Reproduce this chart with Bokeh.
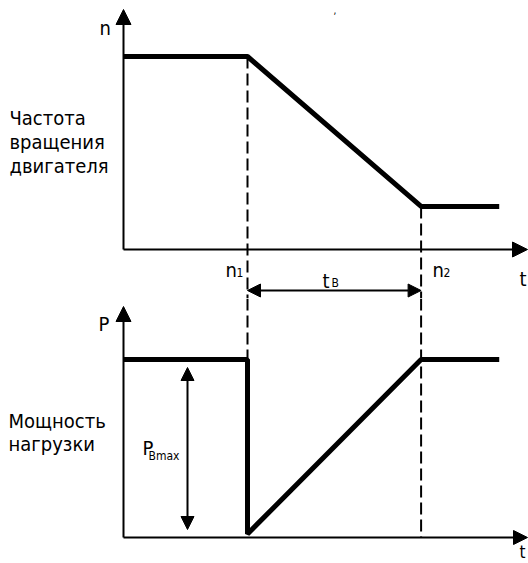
from bokeh.plotting import figure
from bokeh.layouts import column
from bokeh.models import Range1d, Arrow, NormalHead
from bokeh.core.properties import value
from bokeh.embed import file_html
from bokeh.resources import INLINE

# ---------------- data ----------------
t_marks = [0.0, 1.0, 2.4, 3.03]            # start, n1, n2, end of trace
n_speed = [1.0, 1.0, 0.223, 0.223]         # motor speed (relative)
p_time = [0.0, 1.0, 1.0, 2.4, 3.03]
p_power = [1.0, 1.0, 0.02, 1.0, 1.0]       # load power (relative)

speed_label = ["Частота", "вращения", "двигателя"]
power_label = ["Мощность", "нагрузки"]

t1, t2 = t_marks[1], t_marks[2]
n_high, n_low = n_speed[0], n_speed[2]
p_high = p_power[0]

# ---------------- layout helpers (picture pixel -> data) ----------------
FONT = "Liberation Sans Narrow, DejaVu Sans Condensed, sans-serif"
INK = "#000000"
W, H_TOP, H_BOT = 528, 298, 265


def tx(rx):
    return (rx - 123) / 124.0


def ny(ry):
    return (249 - ry) / 193.0


def py(ry):
    return (537 - ry) / 178.0


def make_fig(h, yr):
    p = figure(width=W, height=h, x_range=Range1d(tx(0), tx(W)), y_range=yr,
               output_backend="svg", toolbar_location=None, min_border=0,
               x_axis_type=None, y_axis_type=None, outline_line_color=None,
               background_fill_color="white", border_fill_color="white")
    p.xgrid.visible = False
    p.ygrid.visible = False
    return p


def head(size):
    return NormalHead(size=size, fill_color=INK, line_color=INK, line_width=1)


# ---------------- top: speed ----------------
top = make_fig(H_TOP, Range1d(ny(H_TOP), ny(0)))
top.add_layout(Arrow(end=head(15), x_start=0, y_start=0, x_end=0, y_end=ny(9),
                     line_width=2, line_color=INK))
top.add_layout(Arrow(end=head(15), x_start=0, y_start=0, x_end=tx(527), y_end=0,
                     line_width=2, line_color=INK))
top.segment(x0=[t1, t2], y0=[n_high, n_low], x1=[t1, t2],
            y1=[top.y_range.start, top.y_range.start],
            line_color=INK, line_width=2, line_dash="12 5")
top.line(t_marks, n_speed, line_width=5, line_color=INK)
top.add_layout(Arrow(start=head(13), end=head(13), x_start=t1, x_end=t2,
                     y_start=ny(290), y_end=ny(290), line_width=2, line_color=INK))

top.text(x=[tx(9)] * 3, y=[ny(117), ny(141), ny(165)], text=speed_label,
         text_font=value(FONT), text_font_size="20px", text_color=INK,
         text_baseline="alphabetic", text_align="left")
top.text(x=[tx(99), tx(519), tx(225), tx(322), tx(432)],
         y=[ny(27), ny(278), ny(269), ny(280), ny(269)],
         text=["n", "t", "n", "t", "n"],
         text_font=value(FONT), text_font_size="20px", text_color=INK,
         text_baseline="alphabetic", text_align="left")
top.text(x=[tx(236), tx(331), tx(443)], y=[ny(272), ny(282), ny(272)],
         text=["1", "B", "2"],
         text_font=value(FONT), text_font_size="12px", text_color=INK,
         text_baseline="alphabetic", text_align="left")
top.text(x=[tx(333)], y=[ny(9)], text=[","], text_font=value(FONT),
         text_font_size="10px", text_color=INK, text_baseline="alphabetic")

# ---------------- bottom: power ----------------
bot = make_fig(H_BOT, Range1d(py(H_TOP + H_BOT), py(H_TOP)))
bot.add_layout(Arrow(end=head(15), x_start=0, y_start=0, x_end=0, y_end=py(306),
                     line_width=2, line_color=INK))
bot.add_layout(Arrow(end=head(14), x_start=0, y_start=0, x_end=tx(527), y_end=0,
                     line_width=2, line_color=INK))
bot.segment(x0=[t1, t2], y0=[bot.y_range.end, bot.y_range.end], x1=[t1, t2],
            y1=[p_high, 0.0], line_color=INK, line_width=2, line_dash="12 5")
bot.line(p_time, p_power, line_width=5, line_color=INK)
bot.add_layout(Arrow(start=head(13), end=head(13), x_start=tx(187), x_end=tx(187),
                     y_start=py(367), y_end=py(529), line_width=2, line_color=INK))

bot.text(x=[tx(8)] * 2, y=[py(420), py(443)], text=power_label,
         text_font=value(FONT), text_font_size="20px", text_color=INK,
         text_baseline="alphabetic", text_align="left")
bot.text(x=[tx(98), tx(142)], y=[py(323), py(447)],
         text=["P", "P"],
         text_font=value(FONT), text_font_size="20px", text_color=INK,
         text_baseline="alphabetic", text_align="left")
bot.text(x=[tx(519)], y=[py(551)], text=["t"],
         text_font=value(FONT), text_font_size="17px", text_color=INK,
         text_baseline="alphabetic", text_align="left")
bot.text(x=[tx(148)], y=[py(455)], text=["Bmax"],
         text_font=value(FONT), text_font_size="12px", text_color=INK,
         text_baseline="alphabetic", text_align="left")

layout = column(top, bot, spacing=0)
open("out.html", "w").write(file_html(layout, INLINE))
